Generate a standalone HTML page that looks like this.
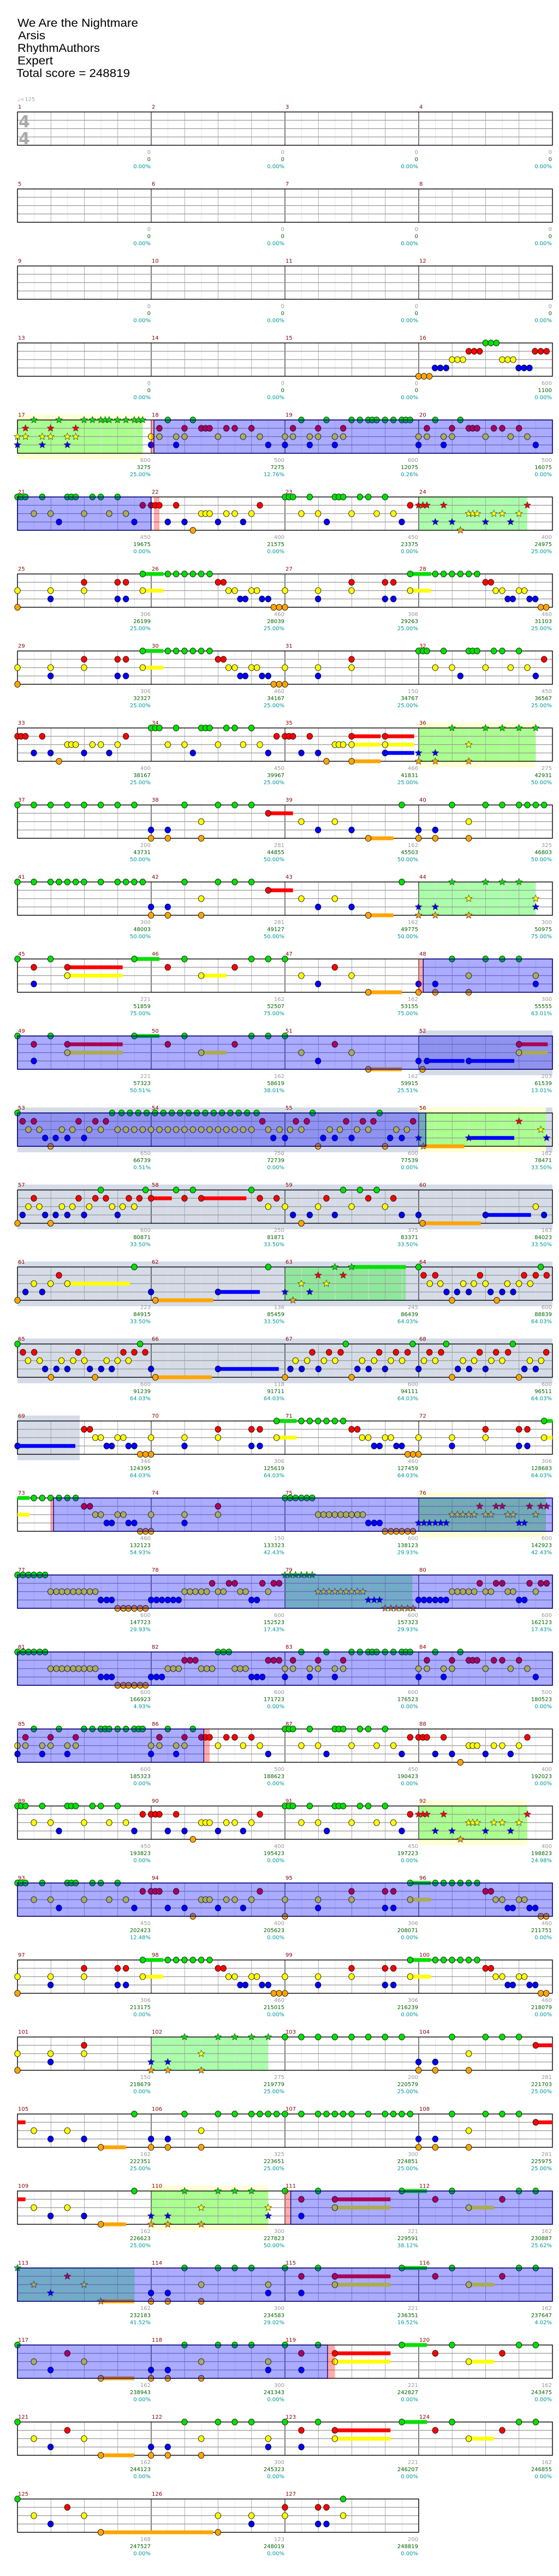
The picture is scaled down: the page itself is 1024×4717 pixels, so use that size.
<!DOCTYPE html>
<html><head><meta charset="utf-8"><style>
html,body{margin:0;padding:0;background:#fff;}
svg{display:block;}
</style></head><body>
<svg id="s" xmlns="http://www.w3.org/2000/svg" width="1024" height="4717" viewBox="0 0 1024 4717">
<rect width="1024" height="4717" fill="#fff"/>
<g font-family="Liberation Sans, DejaVu Sans, sans-serif" fill="#000" font-size="21">
<text x="32" y="49" textLength="221" lengthAdjust="spacingAndGlyphs">We Are the Nightmare</text>
<text x="33" y="72" textLength="50" lengthAdjust="spacingAndGlyphs">Arsis</text>
<text x="32" y="95" textLength="151" lengthAdjust="spacingAndGlyphs">RhythmAuthors</text>
<text x="32" y="118" textLength="65" lengthAdjust="spacingAndGlyphs">Expert</text>
<text x="30" y="141" textLength="208" lengthAdjust="spacingAndGlyphs">Total score = 248819</text>
</g>
<text x="32" y="185" font-family="DejaVu Sans, sans-serif" font-size="10" fill="#aaa">♩=125</text>
<g id="rows"></g>
<g font-family="DejaVu Sans, sans-serif" font-size="30" font-weight="bold" fill="#aaa">
<text x="34" y="233">4</text><text x="34" y="264">4</text>
</g>
</svg>
<script>
(function(){
var NS="http://www.w3.org/2000/svg";
var root=document.getElementById("rows");
function el(t,a,txt){var e=document.createElementNS(NS,t);for(var k in a)e.setAttribute(k,a[k]);if(txt!==undefined)e.textContent=txt;root.appendChild(e);return e;}
function X(z){return z/1.5;}
var COL=["#00e000","#ff0000","#ffff00","#0000ff","#ffa500"];
var LN={G:0,R:1,Y:2,B:3,O:4};
var Z="0/0/0.00%";
var r6={G:"392-449,461,484,507,530,553,576,1127-1184,1196,1219,1242,1265,1288,1311",R:"231,323,346,599,614,966,1058,1081,1334,1349",Y:"48,139,231,392-449,628,645,691,706,783,874,966,1127-1184,1362,1380,1426,1441",B:"139,323,346,660,674,720,737,874,1058,1081,1395,1409,1455,1471",O:"48,752,767,783,1486,1501"};
var r5Y="93,139,231,300,346,553,565,576,622,645,691,828,874,966,1035,1081,1288,1299,1311,1357,1380,1426";
var r5B="162,369,461,507,599,668,898,1104,1196,1242,1334,1403";
var r29={G:"48,507,599,645,691,783,874,1104-1173,1242,1426,1472",R:"185,828,920-1073,1196,1380",Y:"93,231,553,737,920-1073,1288-1357",B:"139,415,461,737,828",O:"277-369,415,461,553"};
var rows=[
{n:{},nums:[Z,Z,Z,Z]},
{n:{},nums:[Z,Z,Z,Z]},
{n:{},nums:[Z,Z,Z,Z]},
{n:{G:"1334,1349,1364",R:"1288,1303,1318,1470,1486,1502",Y:"1242,1257,1272,1380,1395,1410",B:"1195,1210,1226,1425,1440,1455",O:"1150,1165,1180"},nums:[Z,Z,Z,"600/1100/0.00%"]},
{reg:"Y:48-392 G:48-392 P:415-423 B:423-1518",n:{G:"93,162,231,254,277,289,300,323,346,369,381,392,461,530,828,897,966,989,1012,1023,1035,1058,1081,1104,1115,1127,1196,1265",R:"70,139,208,438,507,553,565,576,622,645,691,805,874,943,1173,1242,1288,1299,1311,1357,1380,1426",Y:"48,70,116,139,185,208,415,438,484,507,599,668,714,783,805,851,874,920,943,1150,1173,1219,1242,1334,1403,1449",B:"48,116,185,415,484,737,783,851,920,1150,1219,1472",O:""},nums:["600/3275/25.00%","500/7275/12.76%","600/12075/0.26%","500/16075/0.00%"]},
{reg:"G:1150-1449 B:48-415 P:423-438",n:{G:"48,58,70,116,185,196,208,254,277,323,783,794,805,851,920,931,943,989,1012,1058",R:"392,415,427,438,484,714,1127,1150,1162,1173,1219,1449",Y:r5Y,B:r5B,O:"530,1265"},nums:["450/19675/0.00%","400/21575/0.00%","450/23375/0.00%","400/24975/25.00%"]},
{n:r6,nums:["306/26199/25.00%","460/28039/25.00%","306/29263/25.00%","460/31103/25.00%"]},
{n:{G:"392-449,461,484,507,530,553,576,1150,1162,1173,1219,1288,1299,1311,1357,1380,1426",R:"231,323,346,599,614,966,1495",Y:"48,139,231,392-449,628,645,691,706,783,874,966,1196,1242,1334,1403,1449",B:"139,323,346,660,674,720,737,874,1265,1472",O:"48,752,767,783"},nums:["306/32327/25.00%","460/34167/25.00%","150/34767/25.00%","450/36567/25.00%"]},
{reg:"Y:1150-1472 G:1150-1472",n:{G:"415,427,438,484,553,565,576,622,645,691,1242,1334,1380,1426,1472",R:"48,58,70,116,346,760,783,794,805,851,966-1046,1058-1138",Y:"185,196,208,254,277,323,461,507,599,668,714,920,931,943,966-1046,1058-1138,1288",B:"93,139,231,300,530,737,828,874,1058-1138,1150,1196",O:"162,897,966-1046,1150,1196,1288"},nums:["400/38167/25.00%","450/39967/25.00%","466/41831/25.00%","275/42931/50.00%"]},
{n:{G:"48,93,139,185,231,277,323,369,507,599,645,691,1104,1242,1334,1380,1426,1449,1472,1495",R:"737-805",Y:"553,828,920,1288",B:"415,461,874,966,1150,1196",O:"415,461,553,1012-1081,1150,1196,1288"},nums:["200/43731/50.00%","281/44855/50.00%","162/45503/50.00%","325/46803/50.00%"]},
{reg:"G:1150-1472",n:{G:"48,93,139,162,185,208,231,277,323,346,369,392,507,599,645,691,1104,1242,1334,1380,1426",R:"737-805",Y:"553,828,920,1288,1472",B:"415,461,874,966,1150,1196,1472",O:"415,461,553,1012-1081,1150,1196,1288"},nums:["300/48003/50.00%","281/49127/50.00%","162/49775/50.00%","300/50975/75.00%"]},
{reg:"P:1150-1163 B:1163-1518",n:{G:"48,139,369-438,507,691,737,783,1242,1334,1380,1426",R:"93,185-337,461,645,920",Y:"185-337,553-622,828,966,1288,1472",B:"93,874,1150,1196,1472",O:"1012-1104,1150,1196,1288"},nums:["221/51859/75.00%","162/52507/75.00%","162/53155/75.00%","300/55555/63.01%"]},
{reg:"S:1150-1518 B:48-1518",n:{G:"48,139,369-438,507,691,737,783",R:"93,185-337,461,645,920,1426-1505",Y:"185-337,553-622,828,966,1426-1505",B:"93,874,1150,1173-1276,1288-1413",O:"1012-1104,1161"},nums:["221/57323/50.51%","162/58619/38.01%","162/59915/25.51%","203/61539/13.01%"]},
{reg:"S:48-1518 Y:1150-1500 G:1150-1500 B:48-1170",n:{G:"48,308,334,357,380,403,426,449,472,495,518,541,564,587,610,633,656,679,705,859,1043",R:"62,93,216,262,291,721,813,843,951,997,1026,1135,1426",Y:"78,108,170,199,245,277,323,346,369,392,415,438,461,484,507,530,553,576,599,622,645,668,691,737,768,797,828,906,934,981,1012,1089,1118,1486",B:"124,153,185,231,751,783,888,920,966,1072,1104,1150,1288-1413,1502",O:"139,874,1058,1163-1276"},nums:["650/66739/0.51%","750/72739/0.00%","600/77539/0.00%","182/78471/33.50%"]},
{reg:"S:48-1518",n:{G:"277,400,484,530,691,943,989,1035",R:"93,216,262,291,354,383,415-472,507,553-677,714,760,897,1012,1081",Y:"78,108,170,199,245,308,337,369,737,783,874,966,1058,1472",B:"62,124,153,185,231,323,805,851,920,1104,1150,1334-1459,1495",O:"48,139,828,1161-1321"},nums:["600/80871/33.50%","250/81871/33.50%","375/83371/33.50%","163/84023/33.50%"]},
{reg:"S:48-1518 G:783-1115",n:{G:"369,737,920,966-1115,1150,1486",R:"162,874,943,1164,1196,1319,1440,1472,1502",Y:"93,139,185-357,828,897,1181,1210,1273,1302,1334,1394,1426,1457",B:"70,116,415,599-714,783,851,1227,1256,1288,1348,1380,1410",O:"48,427-586,805,1242,1365"},nums:["223/84915/33.50%","136/85459/33.50%","245/86439/64.03%","600/88839/64.03%"]},
{reg:"S:48-1518",n:{G:"48,385,950,1134,1226,1409",R:"63,94,215,339,369,399,858,904,936,1042,1088,1120,1180,1212,1318,1363,1396,1501",Y:"77,109,169,201,232,293,323,353,812,844,890,921,995,1028,1074,1105,1165,1196,1272,1303,1350,1380,1456,1487",B:"124,155,185,247,278,307,415,599-766,798,829,875,982,1013,1058,1150,1258,1289,1334,1441,1472",O:"140,261,427-582,783,966,1242,1426"},nums:["600/91239/64.03%","118/91711/64.03%","600/94111/64.03%","600/96511/64.03%"]},
{reg:"S:48-219",n:{G:"760-815,828,851,874,897,920,943,1495-1518",R:"231,247,599,691,714,966,982,1334,1426,1449",Y:"262,277,323,339,415,507,599,760-815,995,1012,1058,1074,1150,1242,1334,1495-1518",B:"48-207,293,307,353,369,507,691,714,1028,1043,1089,1104,1242,1426,1449",O:"385,400,415,1120,1135,1150"},nums:["346/124395/64.03%","306/125619/64.03%","460/127459/64.03%","306/128683/64.03%"]},
{reg:"Y:1150-1500 G:1150-1500 P:139-147 B:147-1518",n:{G:"~48-81,93,116,139,162,185,208,783,797,812,828,843,858",R:"231,247,599,1318,1363,1380,1455,1486,1502",Y:"~48-81,262,277,323,339,415,507,599,874,889,904,920,936,951,966,982,997,1242,1257,1272,1288,1303,1334,1349,1395,1410,1472",B:"293,307,353,369,507,1012,1028,1043,1150,1165,1180,1196,1211,1226,1426,1441",O:"385,400,415,1058,1074,1089,1104,1120,1135"},nums:["460/132123/54.93%","150/133323/42.43%","600/138123/29.93%","600/142923/42.43%"]},
{reg:"G:783-1133 B:48-1518",n:{G:"48,63,78,93,109,124,783,797,812,828,843,858",R:"583,629,645,721,752,767,1318,1363,1380,1455,1486,1502",Y:"139,155,170,185,201,216,231,247,262,507,522,537,553,568,599,614,660,675,737,874,889,904,920,936,951,966,982,997,1242,1257,1272,1288,1303,1334,1349,1395,1410,1472",B:"277,293,307,415,430,445,461,476,491,691,706,1012,1028,1043,1150,1165,1180,1196,1211,1226,1426,1441",O:"323,339,353,369,385,400,1058,1074,1089,1104,1120,1135"},nums:["600/147723/29.93%","600/152523/17.43%","600/157323/29.93%","600/162123/17.43%"]},
{reg:"B:48-1518",n:{G:"48,63,78,93,109,124,599,614,629,828,897,966,989,1012,1023,1035,1058,1081,1104,1115,1127,1196,1265",R:"507,522,537,737,752,767,805,874,943,1173,1242,1288,1299,1311,1357,1380,1426",Y:"139,155,170,185,201,216,231,247,262,461,476,491,553,568,583,645,660,675,783,805,851,874,920,943,1150,1173,1219,1242,1334,1403,1449",B:"277,293,307,415,430,445,691,706,721,783,851,920,1150,1219,1472",O:"323,339,353,369,385,400"},nums:["600/166923/4.93%","600/171723/0.00%","600/176523/0.00%","500/180523/0.00%"]},
{reg:"B:48-560 P:560-576",n:{G:"93,162,231,254,277,289,300,323,346,369,381,392,461,530,783,794,805,851,920,931,943,989,1012,1058",R:"70,139,208,438,507,553,565,576,622,645,691,1127,1150,1162,1173,1219,1449",Y:"48,70,116,139,185,208,415,438,484,507,599,668,714,828,874,966,1035,1081,1288,1299,1311,1357,1380,1426",B:"48,116,185,415,484,737,897,1104,1196,1242,1334,1403",O:"1265"},nums:["600/185323/0.00%","500/188623/0.00%","450/190423/0.00%","400/192023/0.00%"]},
{reg:"Y:1150-1449 G:1150-1449",n:{G:"48,58,70,116,185,196,208,254,277,323,783,794,805,851,920,931,943,989,1012,1058",R:"392,415,427,438,484,714,1127,1150,1162,1173,1219,1449",Y:r5Y,B:r5B,O:"530,1265"},nums:["450/193823/0.00%","400/195423/0.00%","450/197223/0.00%","400/198823/24.98%"]},
{reg:"B:48-1518",n:{G:"48,58,70,116,185,196,208,254,277,323,1127-1184,1196,1219,1242,1265,1288,1311",R:"392,415,427,438,484,714,966,1058,1081,1334,1349",Y:"93,139,231,300,346,553,565,576,622,645,691,783,874,966,1127-1184,1362,1380,1426,1441",B:"162,369,461,507,599,668,874,1058,1081,1395,1409,1455,1471",O:"530,783,1486,1501"},nums:["450/202423/12.48%","400/205623/0.00%","306/208071/0.00%","460/211751/0.00%"]},
{n:r6,nums:["306/213175/0.00%","460/215015/0.00%","306/216239/0.00%","460/218079/0.00%"]},
{reg:"G:415-737",n:{G:"507,599,645,691,737,783,828,874,920,966,1012,1058,1104,1242,1334,1380,1426",R:"231,1472-1518",Y:"48,139,231,553,1288",B:"139,415,461,1150,1196",O:"48,415,461,553,1150,1196,1288"},nums:["150/218679/0.00%","275/219779/25.00%","200/220579/25.00%","281/221703/25.00%"]},
{n:{G:"369,507,599,645,691,714,737,760,783,828,874,897,920,943,966,1012,1058,1081,1104,1127,1242,1334,1380,1426",R:"~48-70,1472-1518",Y:"93,185,553,1288",B:"139,231,415,461,1150,1196",O:"277-346,415,461,553,1150,1196,1288"},nums:["162/222351/25.00%","325/223651/25.00%","300/224851/25.00%","281/225975/25.00%"]},
{reg:"Y:415-737 G:415-737 P:783-799 B:799-1518",n:{G:"369,507,599,645,691,783,874,1104-1173,1242,1426,1472",R:"~48-70,828,920-1073,1196,1380",Y:"93,185,553,737,920-1073,1288-1357",B:"139,231,415,461,737,828",O:"277-346,415,461,553"},nums:["162/226623/25.00%","300/227823/50.00%","221/229591/38.12%","162/230887/25.62%"]},
{reg:"G:48-369 B:48-1518",n:{G:"48,507,599,645,691,783,874,1104-1173,1242,1426,1472",R:"185,828,920-1073,1196,1380",Y:"93,231,553,737,920-1073,1288-1357",B:"139,415,461,737,828",O:"277-369,415,461,553"},nums:["162/232183/41.52%","300/234583/29.02%","221/236351/16.52%","162/237647/4.02%"]},
{reg:"B:48-900 P:900-920",n:r29,nums:["162/238943/0.00%","300/241343/0.00%","221/242827/0.00%","162/243475/0.00%"]},
{n:r29,nums:["162/244123/0.00%","300/245323/0.00%","221/246207/0.00%","162/246855/0.00%"]},
{n:{G:"48,943",R:"185,783,874,897",Y:"93,231,599,691,783,943",B:"139,691,874,897",O:"277-586,599"},nums:["168/247527/0.00%","123/248019/0.00%","200/248819/0.00%"],m:3}
];
function parseReg(s){var out=[];if(!s)return out;s.split(" ").forEach(function(t){var p=t.split(":"),q=p[1].split("-");out.push({t:p[0],a:+q[0],b:+q[1]});});return out;}
function star(cx,cy,r,fill){var pts=[];for(var i=0;i<10;i++){var ang=-Math.PI/2+i*Math.PI/5,rr=i%2?r*0.45:r;pts.push((cx+rr*Math.cos(ang)).toFixed(1)+","+(cy+rr*Math.sin(ang)).toFixed(1));}
el("polygon",{points:pts.join(" "),fill:fill,stroke:"#333","stroke-width":"0.7"});}
rows.forEach(function(row,ri){
var L=194+ri*141,top=L+11,bot=L+72,m=row.m||4,x0=32,mw=245,x1=x0+m*mw;
var regs=parseReg(row.reg);
var first=ri*4+1;
// extended backgrounds
regs.forEach(function(g){if(g.t=="S")el("rect",{x:X(g.a),y:L+1,width:X(g.b)-X(g.a),height:82,fill:"#d5dce8"});if(g.t=="Y")el("rect",{x:X(g.a),y:L+1,width:X(g.b)-X(g.a),height:82,fill:"#ffffd5"});});
regs.forEach(function(g){if(g.t=="G")el("rect",{x:X(g.a),y:top,width:X(g.b)-X(g.a),height:61,fill:"rgba(0,255,0,0.33)"});});
// grid
for(var i=1;i<m*8;i++){var x=x0+i*mw/8;var c=(i%8==0)?"#000":(i%2==0?"#999":"#e2e2e2");el("line",{x1:x,y1:top,x2:x,y2:bot,stroke:c,"stroke-width":i%8==0?1:0.8});}
for(var k=1;k<4;k++){var y=top+k*15.25;el("line",{x1:x0,y1:y,x2:x1,y2:y,stroke:"#999","stroke-width":1.3});}
el("rect",{x:x0,y:top,width:x1-x0,height:61,fill:"none",stroke:"#000","stroke-width":1.4});
// measure numbers and stats
for(var j=0;j<m;j++){
el("text",{x:x0+j*mw+1,y:L+5,"font-family":"DejaVu Sans, sans-serif","font-size":"10",fill:"#8b0000"},String(first+j));
var nv=row.nums[j].split("/"),xe=x0+(j+1)*mw-1;
el("text",{x:xe,y:L+88,"text-anchor":"end","font-family":"DejaVu Sans, sans-serif","font-size":"10",fill:"#999"},nv[0]);
el("text",{x:xe,y:L+101,"text-anchor":"end","font-family":"DejaVu Sans, sans-serif","font-size":"10",fill:"#006400"},nv[1]);
el("text",{x:xe,y:L+114,"text-anchor":"end","font-family":"DejaVu Sans, sans-serif","font-size":"10",fill:"#009999"},nv[2]);
}
function inG(z){return regs.some(function(g){return g.t=="G"&&z>=g.a-3&&z<=g.b+3;});}
// notes
["O","B","Y","R","G"].forEach(function(ln){var s=row.n[ln];if(!s)return;var k=LN[ln],y=top+k*15.25;
s.split(",").forEach(function(tok){tok=tok.trim();if(!tok)return;var head=true;if(tok[0]=="~"){head=false;tok=tok.slice(1);}
var q=tok.split("-"),a=+q[0];
if(q.length>1){el("rect",{x:X(a),y:y-3.5,width:X(+q[1])-X(a),height:7,fill:COL[k]});}
if(!head)return;
if(inG(a))star(X(a),y,6.5,COL[k]);
else el("ellipse",{cx:X(a),cy:y,rx:5.2,ry:5.6,fill:COL[k],stroke:"#000","stroke-width":"0.8"});});});
// overlays
regs.forEach(function(g){
if(g.t=="B")el("rect",{x:X(g.a),y:top,width:X(g.b)-X(g.a),height:61,fill:"rgba(0,0,255,0.33)",stroke:"#000080","stroke-width":1.4});
if(g.t=="P")el("rect",{x:X(g.a),y:top,width:X(g.b)-X(g.a),height:61,fill:"rgba(255,0,0,0.33)"});});
});
})();
</script>
</body></html>
